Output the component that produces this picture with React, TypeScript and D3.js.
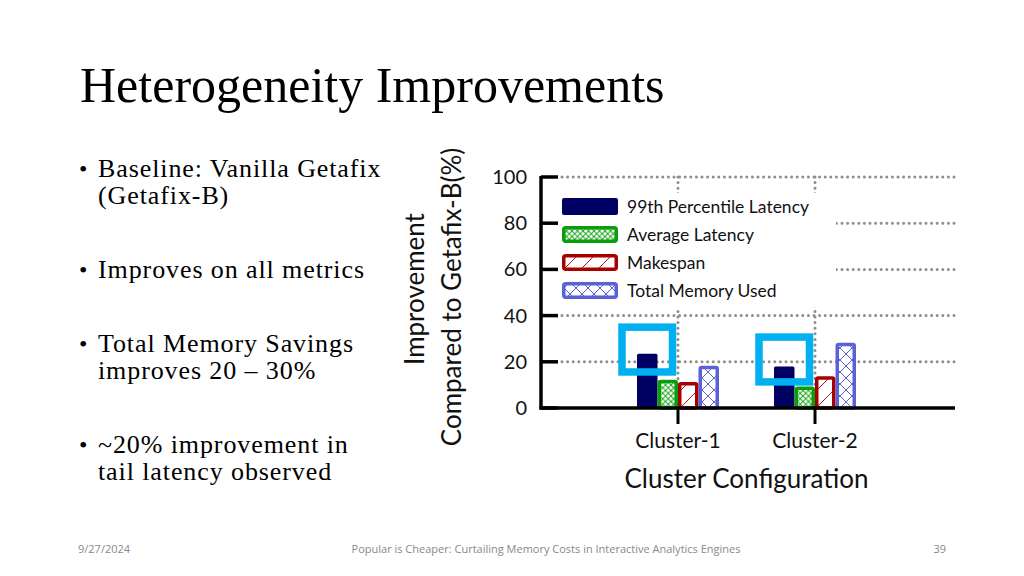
import React from "react";
import * as d3 from "d3";

const categories = ["Cluster-1", "Cluster-2"];
const seriesNames = ["99th Percentile Latency", "Average Latency", "Makespan", "Total Memory Used"];
const p99Latency = [23.5, 18];
const avgLatency = [11.5, 8.5];
const makespan = [10.5, 13];
const totalMemory = [17.5, 27.5];
const yTicks = [0, 20, 40, 60, 80, 100];
const gridValues = [20, 40, 60, 80, 100];
const highlightLow = [15.6, 11.3];
const highlightHigh = [35, 30.7];

const titleText = "Heterogeneity Improvements";
const bullets = [
  ["Baseline: Vanilla Getafix", "(Getafix-B)"],
  ["Improves on all metrics"],
  ["Total Memory Savings", "improves 20 – 30%"],
  ["~20% improvement in", "tail latency observed"],
];
const footerDate = "9/27/2024";
const footerTitle = "Popular is Cheaper: Curtailing Memory Costs in Interactive Analytics Engines";
const footerPage = "39";

const seriesValues = [p99Latency, avgLatency, makespan, totalMemory];
const seriesFill = ["#000062", "url(#pGreen)", "url(#pRed)", "url(#pBlue)"];
const seriesStroke = ["none", "#0a9e0a", "#a80000", "#5a62d6"];

const chartFont = "Lato, 'Open Sans', sans-serif";
const serifFont = "'Liberation Serif', 'DejaVu Serif', serif";

export default function App() {
  const y = d3.scaleLinear().domain([0, 100]).range([408, 177]);
  const x = d3.scalePoint<string>().domain(categories).range([541, 952]).padding(1);
  const inner = d3.scaleBand<string>().domain(seriesNames).range([-41, 41]);
  const bulletBase = [177, 278, 352, 453];
  const lineGap = 26.5;
  const dot = { stroke: "#8d8d8d", strokeWidth: 3, strokeDasharray: "0 5.6", strokeLinecap: "round" as const };

  return (
    <svg width={1024} height={576} style={{ position: "absolute", left: 0, top: 0, background: "#fff" }}>
      <defs>
        <pattern id="pGreen" patternUnits="userSpaceOnUse" width={5.5} height={5.5}>
          <rect width={5.5} height={5.5} fill="#fff" />
          <path d="M0,0L5.5,5.5M5.5,0L0,5.5" stroke="#1aa51a" strokeWidth={1} />
        </pattern>
        <pattern id="pRed" patternUnits="userSpaceOnUse" width={17} height={17}>
          <rect width={17} height={17} fill="#fff" />
          <path d="M0,17L17,0" stroke="#c01010" strokeWidth={1} />
        </pattern>
        <pattern id="pBlue" patternUnits="userSpaceOnUse" width={12} height={12}>
          <rect width={12} height={12} fill="#fff" />
          <path d="M0,0L12,12M12,0L0,12" stroke="#5a62d6" strokeWidth={1} />
        </pattern>
      </defs>

      {/* Title */}
      <text x={80} y={102} fontFamily={serifFont} fontSize={50} fill="#000">{titleText}</text>

      {/* Bullets */}
      {bullets.map((lines, i) => (
        <g key={i}>
          <text x={79} y={bulletBase[i]} fontFamily={serifFont} fontSize={24}>•</text>
          {lines.map((l, j) => (
            <text key={j} x={98} y={bulletBase[i] + j * lineGap} fontFamily={serifFont} fontSize={26}
              letterSpacing={0.9} fill="#000">{l}</text>
          ))}
        </g>
      ))}

      {/* Grid */}
      {gridValues.map((v) => (
        <line key={v} x1={562} x2={955} y1={y(v)} y2={y(v)} {...dot} />
      ))}
      {categories.map((c) => (
        <line key={c} x1={x(c)} x2={x(c)} y1={y(100)} y2={y(0)} {...dot} />
      ))}

      {/* Legend */}
      <rect x={559} y={193} width={277} height={114} fill="#fff" />
      {seriesNames.map((s, i) => {
        const cy = 206.5 + i * 28;
        const sw = seriesStroke[i] === "none" ? 0 : 3.5;
        return (
          <g key={s}>
            <rect x={562 + sw / 2} y={cy - 8.5 + sw / 2} width={56 - sw} height={17 - sw} rx={2}
              fill={seriesFill[i]} stroke={seriesStroke[i]} strokeWidth={sw} />
            <text x={627} y={cy + 6} fontFamily={chartFont} fontSize={17.5} fill="#111">{s}</text>
          </g>
        );
      })}

      {/* Bars */}
      {categories.map((c, ci) => (
        <g key={c}>
          {seriesNames.map((s, si) => {
            const v = seriesValues[si][ci];
            const bx = (x(c) as number) + (inner(s) as number);
            const bw = inner.bandwidth();
            const sw = seriesStroke[si] === "none" ? 0 : 3.5;
            return (
              <rect key={s} x={bx + sw / 2} y={y(v)} width={bw - sw} height={y(0) - y(v)} rx={1.5}
                fill={seriesFill[si]} stroke={seriesStroke[si]} strokeWidth={sw} />
            );
          })}
        </g>
      ))}

      {/* Highlight boxes */}
      {categories.map((c, ci) => (
        <rect key={c} x={(x(c) as number) - 56} y={y(highlightHigh[ci])} width={50.5}
          height={y(highlightLow[ci]) - y(highlightHigh[ci])} fill="none" stroke="#00b0f0" strokeWidth={7.5} />
      ))}

      {/* Axes */}
      <line x1={541} x2={541} y1={y(100) - 1} y2={y(0) + 1.5} stroke="#000" strokeWidth={3.5} />
      <line x1={539.5} x2={955} y1={y(0)} y2={y(0)} stroke="#000" strokeWidth={3.5} />
      {yTicks.map((t) => (
        <g key={t}>
          <line x1={541} x2={558} y1={y(t)} y2={y(t)} stroke="#000" strokeWidth={3.5} />
          <text x={527} y={y(t) + 7} textAnchor="end" fontFamily={chartFont} fontSize={20} fill="#111">{t}</text>
        </g>
      ))}
      {categories.map((c) => (
        <g key={c}>
          <line x1={x(c)} x2={x(c)} y1={y(0)} y2={424} stroke="#000" strokeWidth={3} />
          <text x={x(c)} y={448} textAnchor="middle" fontFamily={chartFont} fontSize={21} fill="#111">{c}</text>
        </g>
      ))}
      <text x={746.5} y={488} textAnchor="middle" fontFamily={chartFont} fontSize={26} fill="#111">Cluster Configuration</text>
      <text transform="translate(424,289) rotate(-90)" textAnchor="middle" fontFamily={chartFont} fontSize={26} fill="#111">Improvement</text>
      <text transform="translate(461,297) rotate(-90)" textAnchor="middle" fontFamily={chartFont} fontSize={26} fill="#111">Compared to Getafix-B(%)</text>

      {/* Footer */}
      <text x={78} y={553} fontFamily="'Open Sans', sans-serif" fontSize={11} fill="#898989">{footerDate}</text>
      <text x={546} y={553} textAnchor="middle" fontFamily="'Open Sans', sans-serif" fontSize={11} fill="#898989">{footerTitle}</text>
      <text x={946} y={553} textAnchor="end" fontFamily="'Open Sans', sans-serif" fontSize={11} fill="#898989">{footerPage}</text>
    </svg>
  );
}
